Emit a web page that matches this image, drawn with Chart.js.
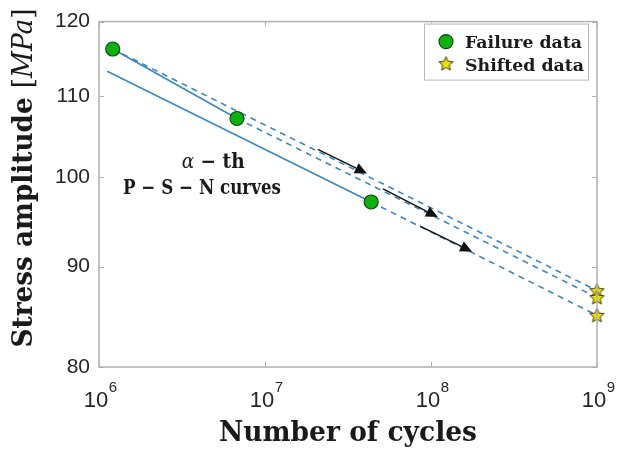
<!DOCTYPE html>
<html>
<head>
<meta charset="utf-8">
<script src="https://cdn.jsdelivr.net/npm/chart.js@4/dist/chart.umd.min.js"></script>
<style>
  body { margin: 0; background: #fff; }
  canvas { display: block; }
</style>
</head>
<body>
<canvas id="psnChart" width="617" height="449"></canvas>
<script>
// Failure data (cycles, MPa)
const failureCycles = [1.21e6, 6.78e6, 4.36e7];
const failureStress = [116.2, 107.1, 97.1];

// Shifted data at the 1e9 limit
const shiftedCycles = [1e9, 1e9, 1e9];
const shiftedStress = [87.5, 86.8, 85.0];

// alpha-th P-S-N curves (solid)
const upperCurveCycles = [1.21e6, 6.78e6];
const upperCurveStress = [116.2, 107.1];
const lowerCurveCycles = [1.12e6, 4.36e7];
const lowerCurveStress = [113.2, 97.1];

// shift arrows
const arrowFromCycles = [2.08e7, 5.14e7, 8.59e7];
const arrowFromStress = [103.3, 98.6, 94.4];
const arrowToCycles = [4.11e7, 1.10e8, 1.77e8];
const arrowToStress = [100.4, 95.4, 91.6];

// axis ticks
const cycleTicks = [1e6, 1e7, 1e8, 1e9];
const stressTicks = [80, 90, 100, 110, 120];

const blue = "#3b88c4";
const textColor = "#1a1a1a";
const frameColor = "#b0b0b0";

function pts(xs, ys) {
  return xs.map((x, i) => ({ x: x, y: ys[i] }));
}

// filled yellow star used as a point style
function makeStar(size) {
  const c = document.createElement("canvas");
  c.width = c.height = size;
  const g = c.getContext("2d");
  const cx = size / 2, cy = size / 2 + 0.5, R = size / 2 - 1, r = R * 0.45;
  g.beginPath();
  for (let i = 0; i < 10; i++) {
    const a = -Math.PI / 2 + i * Math.PI / 5;
    const rad = i % 2 ? r : R;
    g.lineTo(cx + rad * Math.cos(a), cy + rad * Math.sin(a));
  }
  g.closePath();
  g.fillStyle = "#f0e200";
  g.fill();
  g.strokeStyle = "#3a3a14";
  g.lineWidth = 1;
  g.stroke();
  return c;
}
const starImg = makeStar(17);

// draw text pieces squeezed to a target width
function drawParts(ctx, parts, x, y, size, targetWidth, align) {
  let natural = 0;
  parts.forEach(p => {
    ctx.font = p[1] + " " + size + "px 'DejaVu Serif'";
    natural += ctx.measureText(p[0]).width;
  });
  const k = targetWidth ? targetWidth / natural : 1;
  const w = natural * k;
  const start = align === "center" ? x - w / 2 : align === "right" ? x - w : x;
  ctx.save();
  ctx.translate(start, y);
  ctx.scale(k, 1);
  ctx.textAlign = "left";
  ctx.textBaseline = "alphabetic";
  ctx.fillStyle = textColor;
  let cx = 0;
  parts.forEach(p => {
    ctx.font = p[1] + " " + size + "px 'DejaVu Serif'";
    ctx.fillText(p[0], cx, 0);
    cx += ctx.measureText(p[0]).width;
  });
  ctx.restore();
}

const decorations = {
  id: "decorations",
  afterDatasetsDraw(chart) {
    const ctx = chart.ctx;
    const a = chart.chartArea;
    const xs = chart.scales.x, ys = chart.scales.y;

    // arrows
    ctx.save();
    ctx.strokeStyle = "#111";
    ctx.fillStyle = "#111";
    ctx.lineWidth = 1.4;
    arrowFromCycles.forEach((c, i) => {
      const x0 = xs.getPixelForValue(c), y0 = ys.getPixelForValue(arrowFromStress[i]);
      const x1 = xs.getPixelForValue(arrowToCycles[i]), y1 = ys.getPixelForValue(arrowToStress[i]);
      const ang = Math.atan2(y1 - y0, x1 - x0);
      const hl = 12, hw = 5.5;
      const bx = x1 - hl * Math.cos(ang), by = y1 - hl * Math.sin(ang);
      ctx.beginPath();
      ctx.moveTo(x0, y0);
      ctx.lineTo(bx, by);
      ctx.stroke();
      ctx.beginPath();
      ctx.moveTo(x1, y1);
      ctx.lineTo(bx + hw * Math.sin(ang), by - hw * Math.cos(ang));
      ctx.lineTo(bx - hw * Math.sin(ang), by + hw * Math.cos(ang));
      ctx.closePath();
      ctx.fill();
    });
    ctx.restore();

    // frame and inward ticks
    ctx.save();
    ctx.strokeStyle = frameColor;
    ctx.lineWidth = 1.5;
    ctx.strokeRect(a.left, a.top, a.right - a.left, a.bottom - a.top);
    ctx.lineWidth = 1;
    ctx.beginPath();
    stressTicks.forEach(v => {
      const y = Math.round(ys.getPixelForValue(v)) + 0.5;
      ctx.moveTo(a.left, y); ctx.lineTo(a.left + 5, y);
      ctx.moveTo(a.right, y); ctx.lineTo(a.right - 5, y);
    });
    cycleTicks.forEach(v => {
      const x = Math.round(xs.getPixelForValue(v)) + 0.5;
      ctx.moveTo(x, a.bottom); ctx.lineTo(x, a.bottom - 5);
      ctx.moveTo(x, a.top); ctx.lineTo(x, a.top + 5);
    });
    ctx.stroke();
    ctx.restore();

    // x tick labels as 10^n
    ctx.save();
    ctx.fillStyle = "#262626";
    ctx.textBaseline = "alphabetic";
    ctx.textAlign = "left";
    cycleTicks.forEach(v => {
      const x = xs.getPixelForValue(v);
      ctx.font = "22px 'Liberation Sans'";
      const w10 = ctx.measureText("10").width;
      const sx = x - 3 - w10 / 2;
      ctx.fillText("10", sx, a.bottom + 40);
      ctx.font = "15px 'Liberation Sans'";
      ctx.fillText(String(Math.round(Math.log10(v))), sx + w10 + 0.5, a.bottom + 25);
    });
    ctx.restore();

    // axis titles
    drawParts(ctx, [["Number of cycles", "bold"]], (a.left + a.right) / 2, 441, 27, 258, "center");
    ctx.save();
    ctx.translate(32, 178);
    ctx.rotate(-Math.PI / 2);
    drawParts(ctx, [["Stress amplitude ", "bold"], ["[", ""], ["MPa", "italic"], ["]", ""]], 0, 0, 27, 339, "center");
    ctx.restore();

    // curve annotation
    const nx1 = xs.getPixelForValue(4.87e6), ny1 = ys.getPixelForValue(101.06);
    const nx2 = xs.getPixelForValue(4.17e6), ny2 = ys.getPixelForValue(98.0);
    drawParts(ctx, [["\u03b1", "italic"], [" \u2212 th", "bold"]], nx1, ny1, 20, 63, "center");
    drawParts(ctx, [["P \u2212 S \u2212 N curves", "bold"]], nx2, ny2, 20, 158, "center");

    // legend box
    const lx = a.right - 173, ly = a.top + 2, lw = 164, lh = 56;
    ctx.save();
    ctx.fillStyle = "#fff";
    ctx.fillRect(lx, ly, lw, lh);
    ctx.strokeStyle = "#b8b8b8";
    ctx.lineWidth = 1;
    ctx.strokeRect(lx + 0.5, ly + 0.5, lw, lh);
    ctx.fillStyle = "#10b010";
    ctx.strokeStyle = "#0a4a0a";
    ctx.lineWidth = 1.2;
    ctx.beginPath();
    ctx.arc(lx + 22, ly + 18, 7, 0, Math.PI * 2);
    ctx.fill();
    ctx.stroke();
    ctx.drawImage(starImg, lx + 22 - starImg.width / 2, ly + 40 - starImg.height / 2);
    ctx.restore();
    drawParts(ctx, [["Failure data", "bold"]], lx + 41, ly + 24, 17, 117, "left");
    drawParts(ctx, [["Shifted data", "bold"]], lx + 41, ly + 47, 17, 119, "left");
  }
};

const lineStyle = {
  showLine: true, pointRadius: 0, borderColor: blue, borderWidth: 1.6, fill: false, tension: 0
};

new Chart(document.getElementById("psnChart"), {
  type: "scatter",
  data: {
    datasets: [
      {
        label: "Failure data",
        data: pts(failureCycles, failureStress),
        pointStyle: "circle", pointRadius: 7, clip: false,
        backgroundColor: "#10b010", borderColor: "#0a4a0a", borderWidth: 1.2
      },
      {
        label: "Shifted data",
        data: pts(shiftedCycles, shiftedStress),
        pointStyle: starImg, pointRadius: 8, clip: false
      },
      Object.assign({ label: "upper curve", data: pts(upperCurveCycles, upperCurveStress) }, lineStyle),
      Object.assign({ label: "lower curve", data: pts(lowerCurveCycles, lowerCurveStress) }, lineStyle),
      ...failureCycles.map((c, i) => Object.assign({
        label: "shift " + (i + 1),
        data: pts([c, shiftedCycles[i]], [failureStress[i], shiftedStress[i]]),
        borderDash: [6, 5]
      }, lineStyle))
    ]
  },
  options: {
    responsive: false,
    animation: false,
    layout: { padding: { left: 0, right: 20, top: 20, bottom: 0 } },
    plugins: { legend: { display: false }, tooltip: { enabled: false } },
    scales: {
      x: {
        type: "logarithmic", min: 1e6, max: 1e9,
        afterBuildTicks: s => { s.ticks = cycleTicks.map(v => ({ value: v })); },
        afterFit: s => { s.height = 82; },
        ticks: { display: false },
        grid: { display: false, drawTicks: false },
        border: { display: false }
      },
      y: {
        type: "logarithmic", min: 80, max: 120,
        afterBuildTicks: s => { s.ticks = stressTicks.map(v => ({ value: v })); },
        afterFit: s => { s.width = 99; },
        ticks: {
          callback: v => v, padding: 9, autoSkip: false, color: "#262626",
          font: { family: "'Liberation Sans'", size: 21 }
        },
        grid: { display: false, drawTicks: false },
        border: { display: false }
      }
    }
  },
  plugins: [decorations]
});
</script>
</body>
</html>
